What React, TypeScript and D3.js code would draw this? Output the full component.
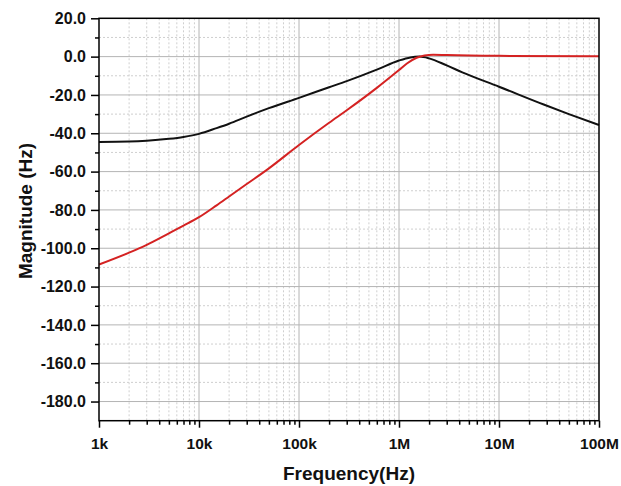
import React, { useEffect, useRef } from 'react';
import * as d3 from 'd3';

// black curve (band-pass like response)
const freqBlack = [1e3, 2e3, 3e3, 5e3, 7e3, 1e4, 1.5e4, 2e4, 3e4, 5e4, 1e5, 2e5, 3e5, 6e5, 1e6, 1.3e6, 1.6e6, 2e6, 3e6, 4.3e6, 1e7, 2.8e7, 5e7, 1e8];
const magBlack = [-44.5, -44.3, -43.9, -42.9, -41.9, -40.3, -37.3, -35.0, -31.3, -26.9, -21.5, -16.0, -12.8, -6.8, -2.0, -0.4, 0, -0.9, -4.6, -8.2, -15.7, -25.0, -30.0, -35.7];

// red curve (high-pass like response)
const freqRed = [1e3, 2e3, 3e3, 5e3, 7e3, 1e4, 1.5e4, 2e4, 3e4, 5e4, 1e5, 2e5, 3e5, 6e5, 1e6, 1.2e6, 1.5e6, 1.8e6, 2.2e6, 3e6, 1e7, 1e8];
const magRed = [-108.5, -102.3, -98.2, -92.2, -88.2, -83.8, -77.6, -73.0, -66.5, -58.3, -46.1, -34.5, -28.0, -16.3, -7.0, -3.6, -0.6, 0.6, 1.0, 0.8, 0.4, 0.2];

const xTickValues = [1e3, 1e4, 1e5, 1e6, 1e7, 1e8];
const xTickLabels = ['1k', '10k', '100k', '1M', '10M', '100M'];
const yTickValues = [20, 0, -20, -40, -60, -80, -100, -120, -140, -160, -180];

export default function App() {
  const svgRef = useRef<SVGSVGElement>(null);

  useEffect(() => {
    const width = 621;
    const height = 486;
    const svg = d3.select(svgRef.current);
    svg.selectAll('*').remove();
    svg.attr('width', width).attr('height', height);

    const left = 99, right = 599, top = 18.3, bottom = 420.7;
    const x = d3.scaleLog().domain([1e3, 1e8]).range([left, right]);
    const y = d3.scaleLinear().domain([-190, 20]).range([bottom, top]);

    const font = '"Liberation Sans", Arial, sans-serif';

    // minor grid positions
    const minorX: number[] = [];
    for (let d = 1e3; d < 1e8; d *= 10) {
      for (let k = 2; k <= 9; k++) minorX.push(d * k);
    }
    const minorY = d3.range(-180, 20, 20).map(v => v + 10);

    const grid = svg.append('g');
    grid.selectAll('line.mx')
      .data(minorX).enter().append('line')
      .attr('x1', d => x(d)).attr('x2', d => x(d))
      .attr('y1', top).attr('y2', bottom)
      .attr('stroke', '#cfcfcf').attr('stroke-width', 1)
      .attr('stroke-dasharray', '2,2');
    grid.selectAll('line.my')
      .data(minorY).enter().append('line')
      .attr('x1', left).attr('x2', right)
      .attr('y1', d => y(d)).attr('y2', d => y(d))
      .attr('stroke', '#cfcfcf').attr('stroke-width', 1)
      .attr('stroke-dasharray', '2,2');

    // major grid
    grid.selectAll('line.Mx')
      .data(xTickValues.slice(1, -1)).enter().append('line')
      .attr('x1', d => x(d)).attr('x2', d => x(d))
      .attr('y1', top).attr('y2', bottom)
      .attr('stroke', '#b4b4b4').attr('stroke-width', 1);
    grid.selectAll('line.My')
      .data(yTickValues.slice(1)).enter().append('line')
      .attr('x1', left).attr('x2', right)
      .attr('y1', d => y(d)).attr('y2', d => y(d))
      .attr('stroke', '#b4b4b4').attr('stroke-width', 1);

    // curves
    const line = d3.line<[number, number]>()
      .x(d => x(d[0]))
      .y(d => y(d[1]))
      .curve(d3.curveMonotoneX);

    svg.append('path')
      .datum(freqBlack.map((f, i) => [f, magBlack[i]] as [number, number]))
      .attr('d', line)
      .attr('fill', 'none')
      .attr('stroke', '#111')
      .attr('stroke-width', 2);

    svg.append('path')
      .datum(freqRed.map((f, i) => [f, magRed[i]] as [number, number]))
      .attr('d', line)
      .attr('fill', 'none')
      .attr('stroke', '#d42222')
      .attr('stroke-width', 2);

    // frame
    svg.append('rect')
      .attr('x', left).attr('y', top)
      .attr('width', right - left).attr('height', bottom - top)
      .attr('fill', 'none')
      .attr('stroke', '#000')
      .attr('stroke-width', 1.5);

    // y axis
    const yAxis = d3.axisLeft(y)
      .tickValues(yTickValues)
      .tickSize(8)
      .tickPadding(5)
      .tickFormat(d => (d as number).toFixed(1));
    const gy = svg.append('g').attr('transform', `translate(${left},0)`).call(yAxis);
    gy.select('.domain').remove();
    gy.selectAll('line').attr('stroke', '#000').attr('stroke-width', 1.5);
    gy.selectAll('text')
      .attr('font-family', font).attr('font-size', 16).attr('font-weight', 'bold').attr('fill', '#111');
    const yMinor = d3.axisLeft(y).tickValues(minorY).tickSize(4).tickFormat(() => '');
    const gym = svg.append('g').attr('transform', `translate(${left},0)`).call(yMinor);
    gym.select('.domain').remove();
    gym.selectAll('line').attr('stroke', '#000').attr('stroke-width', 1.5);

    // x axis
    const xAxis = d3.axisBottom(x)
      .tickValues(xTickValues)
      .tickSize(7)
      .tickPadding(10)
      .tickFormat((d, i) => xTickLabels[i]);
    const gx = svg.append('g').attr('transform', `translate(0,${bottom})`).call(xAxis);
    gx.select('.domain').remove();
    gx.selectAll('line').attr('stroke', '#000').attr('stroke-width', 1.5);
    gx.selectAll('text')
      .attr('font-family', font).attr('font-size', 15.5).attr('font-weight', 'bold').attr('fill', '#111');
    const xMinor = d3.axisBottom(x).tickValues(minorX).tickSize(4).tickFormat(() => '');
    const gxm = svg.append('g').attr('transform', `translate(0,${bottom})`).call(xMinor);
    gxm.select('.domain').remove();
    gxm.selectAll('line').attr('stroke', '#000').attr('stroke-width', 1.5);

    // axis titles
    svg.append('text')
      .attr('x', (left + right) / 2).attr('y', 480)
      .attr('text-anchor', 'middle')
      .attr('font-family', font).attr('font-size', 19).attr('font-weight', 'bold').attr('fill', '#111')
      .text('Frequency(Hz)');
    svg.append('text')
      .attr('transform', `translate(32,211) rotate(-90)`)
      .attr('text-anchor', 'middle')
      .attr('font-family', font).attr('font-size', 19).attr('font-weight', 'bold').attr('fill', '#111')
      .text('Magnitude (Hz)');
  }, []);

  return (
    <div style={{ position: 'absolute', left: 0, top: 0, background: '#fff' }}>
      <svg ref={svgRef}></svg>
    </div>
  );
}
